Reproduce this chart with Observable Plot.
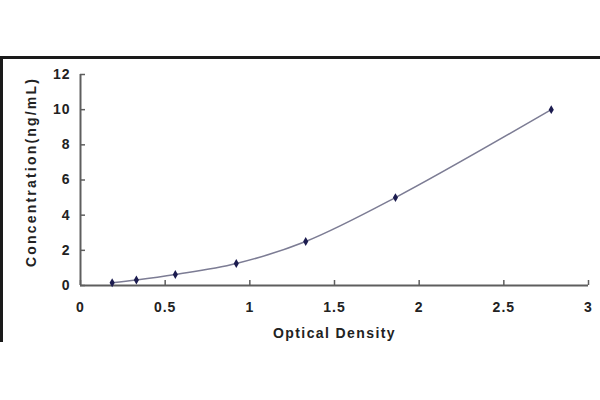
<!DOCTYPE html>
<html>
<head>
<meta charset="utf-8">
<script src="https://cdn.jsdelivr.net/npm/d3@7"></script>
<script src="https://cdn.jsdelivr.net/npm/@observablehq/plot@0.6"></script>
<style>
  html, body { margin: 0; padding: 0; background: #fff; }
  #wrap { position: relative; width: 600px; height: 400px; overflow: hidden; }
  #frame { position: absolute; left: 0; top: 56px; width: 600px; height: 286px;
           border-top: 3px solid #1a1a1a; border-left: 3px solid #1a1a1a; box-sizing: border-box; }
  #chart { position: absolute; left: 0; top: 0; }
  #chart svg text { letter-spacing: 1px; }
  #chart svg g.ylab text { letter-spacing: 2.2px; }
  #chart svg g.xlab text { letter-spacing: 1.4px; }
</style>
</head>
<body>
<div id="wrap"><div id="frame"></div><div id="chart"></div></div>
<script>
const od = [0.187, 0.33, 0.56, 0.92, 1.33, 1.86, 2.78];
const conc = [0.156, 0.312, 0.625, 1.25, 2.5, 5, 10];
const xTicks = [0, 0.5, 1, 1.5, 2, 2.5, 3];
const yTicks = [0, 2, 4, 6, 8, 10, 12];
const xLabel = "Optical Density";
const yLabel = "Concentration(ng/mL)";

const data = od.map((x, i) => ({x, y: conc[i]}));

const chart = Plot.plot({
  width: 600,
  height: 400,
  marginLeft: 80,
  marginRight: 12,
  marginTop: 74,
  marginBottom: 115,
  style: {fontFamily: "'Liberation Sans', Arial, sans-serif", fontSize: "14px", fontWeight: "bold", color: "#222", background: "transparent"},
  x: {domain: [0, 3]},
  y: {domain: [0, 12]},
  marks: [
    Plot.ruleY([0], {stroke: "#5e5e5e", strokeWidth: 2}),
    Plot.ruleX([0], {stroke: "#5e5e5e", strokeWidth: 2}),
    Plot.axisX({ticks: xTicks, tickSize: -5, tickPadding: 22, stroke: "#5e5e5e", strokeWidth: 1.5,
      tickFormat: d => String(d), label: null}),
    Plot.axisY({ticks: yTicks, tickSize: -5, tickPadding: 15, stroke: "#5e5e5e", strokeWidth: 1.5,
      tickFormat: d => String(d), label: null}),
    Plot.text([xLabel], {frameAnchor: "bottom", dy: 52, text: d => d, className: "xlab", fontSize: 14}),
    Plot.text([yLabel], {frameAnchor: "left", textAnchor: "middle", lineAnchor: "middle", rotate: -90, dx: -49, dy: -8, text: d => d, className: "ylab", fontSize: 14}),
    Plot.line(data, {x: "x", y: "y", curve: "catmull-rom", stroke: "#7c7c94", strokeWidth: 1.5}),
    Plot.dot(data, {x: "x", y: "y", symbol: "diamond", r: 2.7, fill: "#1c1c50", stroke: "none"})
  ]
});
document.getElementById("chart").appendChild(chart);
</script>
</body>
</html>
